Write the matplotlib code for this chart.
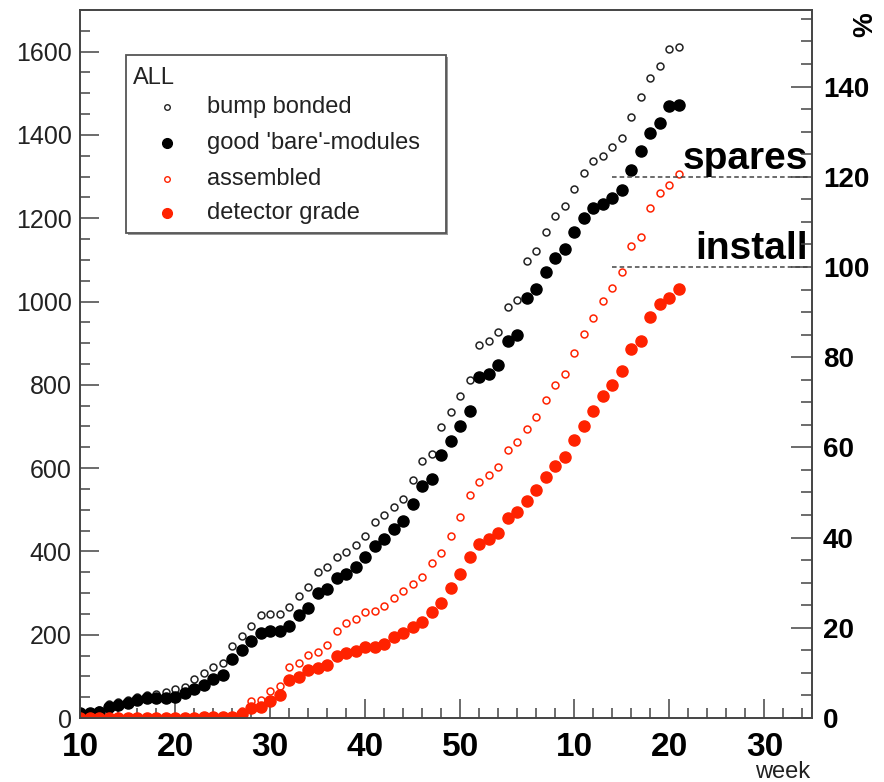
import matplotlib
matplotlib.use("Agg")
import matplotlib.pyplot as plt
from matplotlib.lines import Line2D
from matplotlib.patches import Rectangle
from matplotlib.ticker import FixedLocator, MultipleLocator
import numpy as np

plt.rcParams['font.family'] = ['Liberation Sans', 'DejaVu Sans']

# running week number (weeks of the second year continue after 52)
weeks = np.arange(10, 74)

bump_bonded = [12, 13, 20, 33, 38, 43, 50, 55, 57, 63, 69, 74, 93, 109, 123, 133,
               173, 197, 220, 247, 250, 250, 266, 294, 315, 351, 363, 387, 398, 415,
               437, 470, 487, 507, 527, 571, 618, 635, 698, 734, 773, 812, 896, 905,
               927, 987, 1004, 1097, 1121, 1168, 1206, 1230, 1269, 1308, 1337, 1349,
               1371, 1393, 1442, 1492, 1536, 1566, 1607, 1610]
good_bare = [11, 11, 15, 27, 31, 35, 43, 47, 47, 47, 51, 59, 69, 79, 93, 103,
             142, 164, 185, 205, 210, 209, 222, 247, 263, 299, 310, 335, 346, 363,
             386, 413, 431, 455, 473, 515, 558, 575, 632, 666, 701, 737, 819, 825,
             848, 906, 919, 1008, 1030, 1070, 1104, 1126, 1168, 1200, 1224, 1234,
             1248, 1268, 1316, 1362, 1404, 1428, 1469, 1472]
assembled = [0, 0, 0, 0, 0, 0, 0, 0, 0, 0, 0, 1, 1, 2, 2, 3,
             5, 18, 40, 44, 66, 77, 123, 131, 151, 159, 175, 210, 227, 238,
             255, 258, 270, 287, 304, 321, 338, 371, 395, 437, 483, 535, 566, 583,
             602, 643, 663, 693, 723, 764, 800, 827, 877, 921, 960, 1001,
             1032, 1072, 1133, 1156, 1224, 1260, 1280, 1306]
detector_grade = [0, 0, 0, 0, 0, 0, 0, 0, 0, 0, 0, 1, 1, 2, 2, 3,
                  3, 10, 23, 27, 41, 55, 91, 99, 115, 119, 127, 149, 155, 162,
                  170, 171, 178, 194, 205, 219, 230, 255, 277, 313, 346, 387, 417, 430,
                  445, 481, 495, 522, 547, 579, 605, 627, 667, 701, 736, 773,
                  800, 833, 886, 905, 963, 993, 1009, 1031]

n_install = 1083          # modules needed for installation (= 100 %)
spare_frac = 1.2

tick_pos = [10, 20, 30, 40, 50, 62, 72, 82]
tick_lab = ['10', '20', '30', '40', '50', '10', '20', '30']

series_names = ['bump bonded', "good 'bare'-modules", 'assembled', 'detector grade']

RED = '#ff2200'
W, H = 884, 782

fig = plt.figure(figsize=(W / 100, H / 100), dpi=100)
ax = fig.add_axes([80/W, 64/H, 732/W, 708/H])
ax.set_xlim(10, 87)
ax.set_ylim(0, 1700)

styles = [
    dict(ms=5, mfc='none', mec='#222', mew=1.1),
    dict(ms=8, color='black'),
    dict(ms=5, mfc='none', mec=RED, mew=1.1),
    dict(ms=8, color=RED),
]
for vals, st in zip([bump_bonded, good_bare, assembled, detector_grade], styles):
    ax.plot(weeks, vals, 'o', ls='none', **st)

# target levels
for frac, label in [(spare_frac, 'spares'), (1.0, 'install')]:
    lvl = n_install * frac
    ax.plot([66, 86.8], [lvl, lvl], ls=(0, (3, 2)), color='#444', lw=1.1)
    ax.text(86.6, lvl + 18, label, ha='right', va='baseline',
            fontsize=28, fontweight='bold')

# axes styling
for s in ax.spines.values():
    s.set_color('#444')
    s.set_linewidth(1.2)
ax.xaxis.set_major_locator(FixedLocator(tick_pos))
ax.set_xticklabels(tick_lab, fontsize=24, fontweight='bold')
ax.xaxis.set_minor_locator(MultipleLocator(2))
ax.yaxis.set_major_locator(MultipleLocator(200))
ax.yaxis.set_minor_locator(MultipleLocator(50))
ax.tick_params(axis='x', which='major', direction='in', length=14, width=1.1,
               color='#444', pad=10)
ax.tick_params(axis='x', which='minor', direction='in', length=7, width=1.1, color='#444')
ax.tick_params(axis='y', which='major', direction='in', length=14, width=1.1,
               color='#444', labelsize=18, pad=6, labelcolor='#222')
ax.tick_params(axis='y', which='minor', direction='in', length=7, width=1.1, color='#444')

ax2 = ax.twinx()
ax2.set_ylim(0, 1700 / n_install * 100)
ax2.yaxis.set_major_locator(MultipleLocator(20))
ax2.yaxis.set_minor_locator(MultipleLocator(5))
ax2.tick_params(axis='y', which='major', direction='in', length=15, width=1.1,
                color='#444', labelsize=20, pad=8)
ax2.tick_params(axis='y', which='minor', direction='in', length=8, width=1.1, color='#444')
for t in ax2.get_yticklabels():
    t.set_fontweight('bold')
for s in ax2.spines.values():
    s.set_color('#444')
    s.set_linewidth(1.2)

fig.text(865/W, 1 - 25/H, '%', rotation=90, ha='center', va='center',
         fontsize=20, fontweight='bold')
fig.text(810/W, 1 - 772/H, 'week', ha='right', va='center', fontsize=17, color='#222')

# legend box, drawn by hand in figure pixels
def fx(px):
    return px / W

def fy(py):
    return 1 - py / H

x0, y0, x1, y1 = 126, 55, 446, 233
fig.add_artist(Rectangle((fx(x0 + 2), fy(y1 + 2)), fx(x1) - fx(x0), fy(y0) - fy(y1),
                         transform=fig.transFigure, facecolor='#999', edgecolor='none',
                         zorder=5))
fig.add_artist(Rectangle((fx(x0), fy(y1)), fx(x1) - fx(x0), fy(y0) - fy(y1),
                         transform=fig.transFigure, facecolor='white', edgecolor='#555',
                         lw=1.3, zorder=6))
fig.text(fx(133), fy(78), 'ALL', ha='left', va='center', fontsize=17, color='#222', zorder=7)
leg_styles = [
    dict(ms=4, mfc='none', mec='#222', mew=1),
    dict(ms=7, color='black'),
    dict(ms=4, mfc='none', mec=RED, mew=1),
    dict(ms=7, color=RED),
]
for row_y, name, st in zip([107, 143, 179, 213], series_names, leg_styles):
    fig.add_artist(Line2D([fx(167)], [fy(row_y)], marker='o', ls='none',
                          transform=fig.transFigure, zorder=7, **st))
    fig.text(fx(207), fy(row_y), name, ha='left', va='center', fontsize=17,
             color='#222', zorder=7)

fig.savefig('out.png', dpi=100)
